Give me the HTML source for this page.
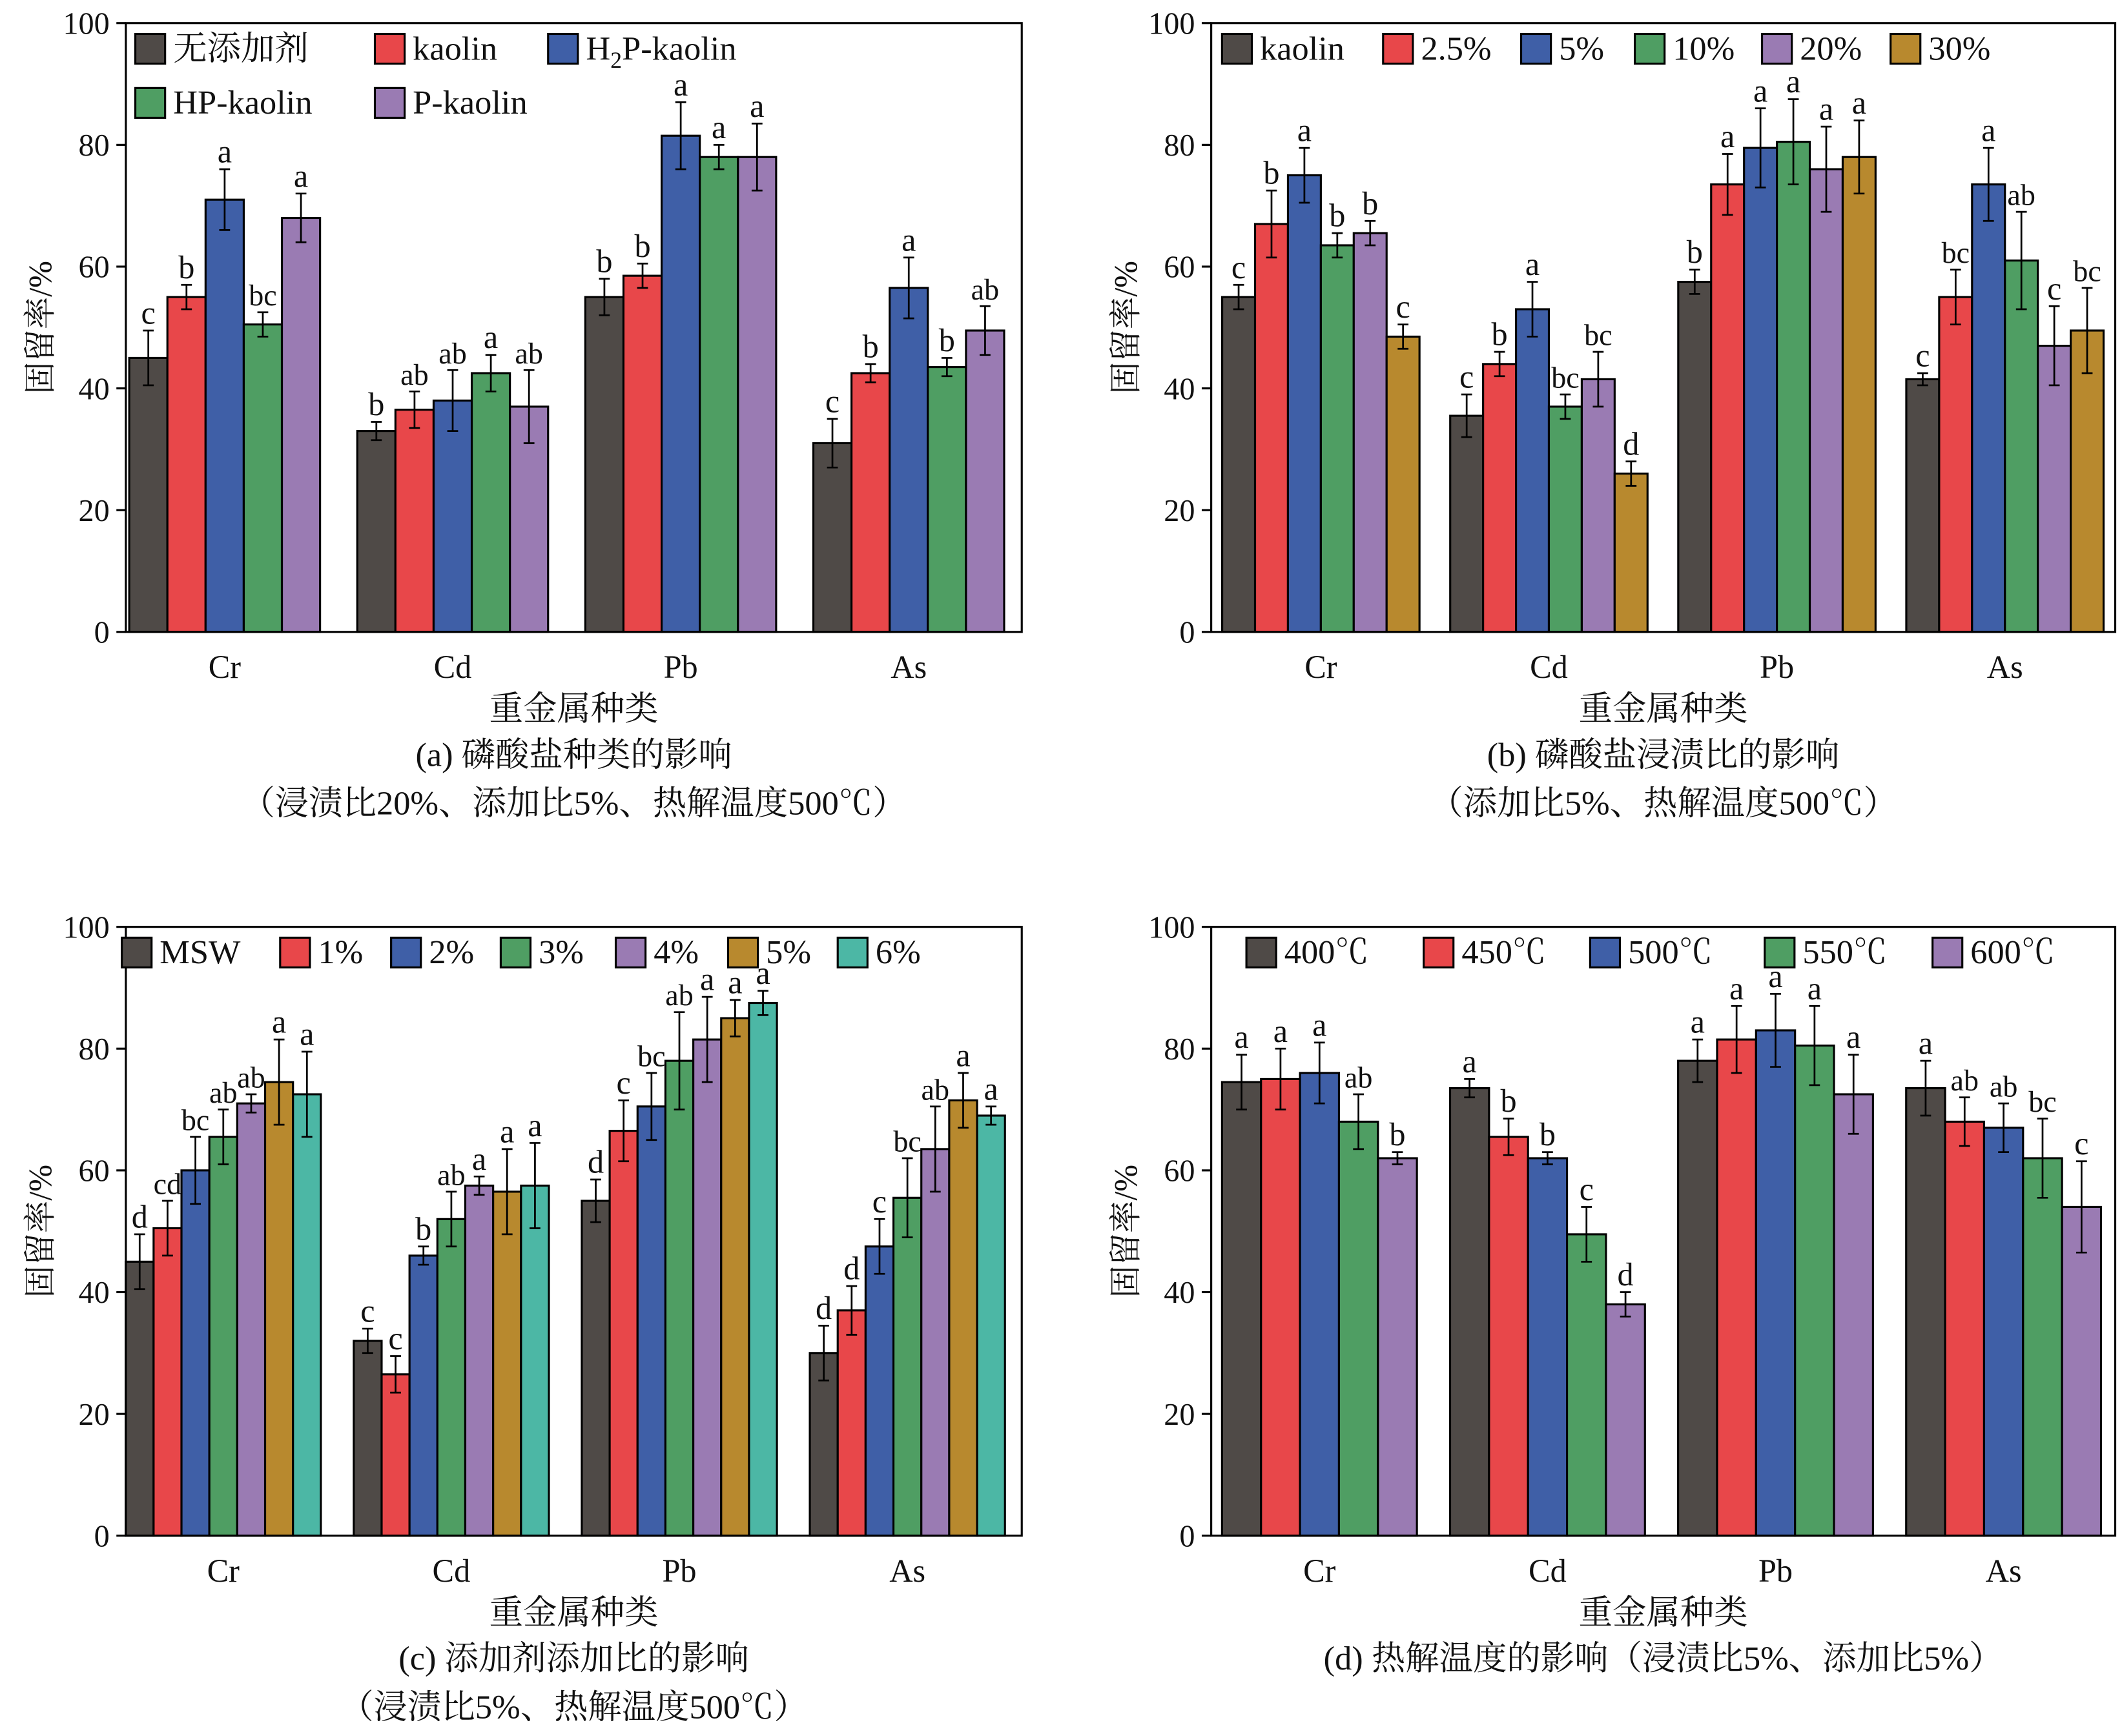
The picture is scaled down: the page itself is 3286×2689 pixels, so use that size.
<!DOCTYPE html>
<html><head><meta charset="utf-8"><style>
html,body{margin:0;padding:0;background:#fff}
svg{display:block}
text{font-family:"Liberation Serif","Noto Serif CJK SC",serif;fill:#111}
</style></head><body>
<svg id="fig" width="3286" height="2689" viewBox="0 0 1568 1283" xmlns="http://www.w3.org/2000/svg"></svg>
<script>
const groups = ["Cr","Cd","Pb","As"];
const yTicks = [0,20,40,60,80,100];
const colors = ["#4f4a47","#e8474a","#3f5fa7","#4f9e63","#9a7bb3","#b8892e","#4cb7a5"];

// Panel a
const aSeries = ["无添加剂","kaolin","H2P-kaolin","HP-kaolin","P-kaolin"];
const aVals = [[45,33,55,31],[55,36.5,58.5,42.5],[71,38,81.5,56.5],[50.5,42.5,78,43.5],[68,37,78,49.5]];
const aErr = [[4.5,1.5,3,4],[2,3,2,1.5],[5,5,5.5,5],[2,3,2,1.5],[4,6,5.5,4]];
const aLet = [["c","b","b","c"],["b","ab","b","b"],["a","ab","a","a"],["bc","a","a","b"],["a","ab","a","ab"]];
// Panel b
const bSeries = ["kaolin","2.5%","5%","10%","20%","30%"];
const bVals = [[55,35.5,57.5,41.5],[67,44,73.5,55],[75,53,79.5,73.5],[63.5,37,80.5,61],[65.5,41.5,76,47],[48.5,26,78,49.5]];
const bErr = [[2,3.5,2,1],[5.5,2,5,4.5],[4.5,4.5,6.5,6],[2,2,7,8],[2,4.5,7,6.5],[2,2,6,7]];
const bLet = [["c","c","b","c"],["b","b","a","bc"],["a","a","a","a"],["b","bc","a","ab"],["b","bc","a","c"],["c","d","a","bc"]];
// Panel c
const cSeries = ["MSW","1%","2%","3%","4%","5%","6%"];
const cVals = [[45,32,55,30],[50.5,26.5,66.5,37],[60,46,70.5,47.5],[65.5,52,78,55.5],[71,57.5,81.5,63.5],[74.5,56.5,85,71.5],[72.5,57.5,87.5,69]];
const cErr = [[4.5,2,3.5,4.5],[4.5,3,5,4],[5.5,1.5,5.5,4.5],[4.5,4.5,8,6.5],[1.5,1.5,7,7],[7,7,3,4.5],[7,7,2,1.5]];
const cLet = [["d","c","d","d"],["cd","c","c","d"],["bc","b","bc","c"],["ab","ab","ab","bc"],["ab","a","a","ab"],["a","a","a","a"],["a","a","a","a"]];
// Panel d
const dSeries = ["400℃","450℃","500℃","550℃","600℃"];
const dVals = [[74.5,73.5,78,73.5],[75,65.5,81.5,68],[76,62,83,67],[68,49.5,80.5,62],[62,38,72.5,54]];
const dErr = [[4.5,1.5,3.5,4.5],[5,3,5.5,4],[5,1,6,4],[4.5,4.5,6.5,6.5],[1,2,6.5,7.5]];
const dLet = [["a","a","a","a"],["a","b","a","ab"],["a","b","a","ab"],["ab","c","a","bc"],["b","d","a","c"]];

const NS="http://www.w3.org/2000/svg";
const svg=document.getElementById('fig');
function mk(tag,attrs,parent,txt){const e=document.createElementNS(NS,tag);for(const k in attrs)e.setAttribute(k,attrs[k]);if(txt!==undefined)e.textContent=txt;(parent||svg).appendChild(e);return e;}

function panel(id,x0,x1,y0,y1,series,vals,errs,lets,bw,firstC,spacing,legendRows,cap1,cap2){
  const g=mk('g',{});
  
  
  const ys=v=>y1-(v/100)*(y1-y0);
  yTicks.forEach(t=>{
    const l=mk('line',{x1:x0-7,x2:x0,y1:ys(t),y2:ys(t),stroke:'#000','stroke-width':1.5},g);
    
    
    const tx=mk('text',{x:x0-12,y:ys(t)+8,'text-anchor':'end','font-size':23},g,String(t));
    
    
  });
  const yt=mk('text',{x:0,y:0,'font-size':24,'text-anchor':'middle',transform:`translate(${x0-55},${(y0+y1)/2}) rotate(-90)`},g,'固留率/%');
  
  
  const n=series.length;
  groups.forEach((gn,gi)=>{
    const cx=x0+firstC+gi*spacing;
    const start=cx-n*bw/2;
    series.forEach((s,si)=>{
      const v=vals[si][gi],e=errs[si][gi];
      const bx=start+si*bw;
      const r=mk('rect',{x:bx,y:ys(v),width:bw,height:ys(0)-ys(v),fill:colors[si],stroke:'#000','stroke-width':1.5},g);
      
      
      const mx=bx+bw/2;
      const eb=mk('path',{d:`M${mx},${ys(v+e)}V${ys(v-e)}M${mx-4},${ys(v+e)}H${mx+4}M${mx-4},${ys(v-e)}H${mx+4}`,stroke:'#000','stroke-width':1.3,fill:'none'},g);
      
      
      const lt=mk('text',{x:mx,y:ys(v+e)-5,'text-anchor':'middle','font-size':lets[si][gi].length>1?22:24},g,lets[si][gi]);
      
      
    });
    const xl=mk('text',{x:cx,y:y1+34,'text-anchor':'middle','font-size':24},g,gn);
    
    
  });
  const fr=mk('rect',{x:x0,y:y0,width:x1-x0,height:y1-y0,fill:'none',stroke:'#000','stroke-width':1.5},g);
  
  
  legendRows.forEach((row,ri)=>{
    row.forEach(([si,lx])=>{
      const ly=y0+18+ri*40;
      const sw=mk('rect',{x:lx,y:ly-10,width:22,height:22,fill:colors[si],stroke:'#000','stroke-width':1.5},g);
      
      
      const t=mk('text',{x:lx+28,y:ly+9,'font-size':25},g);
      
      
      const lab=series[si];
      if(lab==='H2P-kaolin'){t.textContent='H';mk('tspan',{'font-size':17,dy:6},t,'2');mk('tspan',{dy:-6},t,'P-kaolin');}
      else t.textContent=lab;
    });
  });
  const cx=(x0+x1)/2;
  const xt=mk('text',{x:cx,y:y1+65,'text-anchor':'middle','font-size':25},g,'重金属种类');
  
  
  const c1=mk('text',{x:cx,y:y1+99,'text-anchor':'middle','font-size':25},g,cap1);
  
  
  if(cap2){const c2=mk('text',{x:cx,y:y1+135,'text-anchor':'middle','font-size':25},g,cap2);
  
  }
}
panel('a',93,755,17,467,aSeries,aVals,aErr,aLet,28.2,73,168.5,[[[0,100],[1,277],[2,405]],[[3,100],[4,277]]],'(a) 磷酸盐种类的影响','（浸渍比20%、添加比5%、热解温度500℃）');
panel('b',895,1563,17,467,bSeries,bVals,bErr,bLet,24.3,81,168.5,[[[0,903],[1,1022],[2,1124],[3,1208],[4,1302],[5,1397]]],'(b) 磷酸盐浸渍比的影响','（添加比5%、热解温度500℃）');
panel('c',93,755,685,1135,cSeries,cVals,cErr,cLet,20.6,72,168.5,[[[0,90],[1,207],[2,289],[3,370],[4,455],[5,538],[6,619]]],'(c) 添加剂添加比的影响','（浸渍比5%、热解温度500℃）');
panel('d',895,1563,685,1135,dSeries,dVals,dErr,dLet,28.8,80,168.5,[[[0,921],[1,1052],[2,1175],[3,1304],[4,1428]]],'(d) 热解温度的影响（浸渍比5%、添加比5%）',null);
</script>
</body></html>
